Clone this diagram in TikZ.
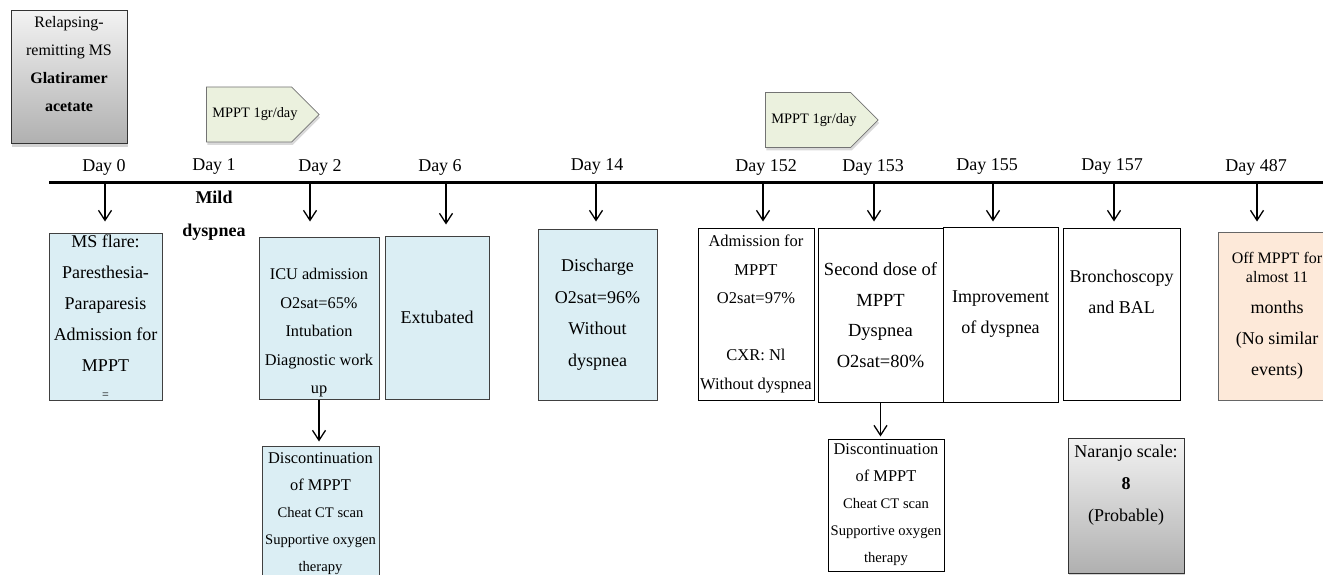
\documentclass[tikz,border=0pt]{standalone}
\usepackage{fontspec}
\setmainfont{Liberation Serif}
\usetikzlibrary{arrows.meta,shapes.symbols,shadows}
\definecolor{boxblue}{RGB}{219,238,244}
\definecolor{taggreen}{RGB}{235,241,222}
\definecolor{boxpeach}{RGB}{253,233,217}

\begin{document}
\begin{tikzpicture}
[x=1pt, y=-1pt,
 every node/.style={inner sep=0pt, align=center, font=\fontsize{18}{31}\selectfont},
 bluebox/.style={rectangle, draw=black!75, line width=1pt, fill=boxblue},
 plainbox/.style={rectangle, draw=black, line width=1pt, fill=white},
 peachbox/.style={rectangle, draw=black!60, line width=1pt, fill=boxpeach},
 greybox/.style={rectangle, draw=black!80, line width=1pt, top color=gray!10, bottom color=gray!62, drop shadow={shadow xshift=1pt, shadow yshift=-3pt, opacity=0.35}},
 dosetag/.style={signal, signal to=east, anchor=west, draw=black!55, line width=0.75pt, fill=taggreen, minimum width=110pt, minimum height=55pt, font=\fontsize{14.4}{17}\selectfont, drop shadow={shadow xshift=1pt, shadow yshift=-3pt, opacity=0.3}},
 dayarrow/.style={line width=1.3pt, -{Straight Barb[length=10pt,width=13pt]}}]
\useasboundingbox (0,0) rectangle (1323,575);
\clip (0,0) rectangle (1323,575);

% top
\node (rrms) [greybox, minimum width=116pt, minimum height=133pt, font=\fontsize{16}{28}\selectfont] at (69, 77.5) {Relapsing-\\remitting MS\\\textbf{Glatiramer}\\\textbf{acetate}\\\mbox{}};
\node (tag1) [dosetag] at (206, 114.5) {\kern6pt MPPT 1gr/day\kern-6pt};
\node (tag2) [dosetag] at (765, 120) {\kern6pt MPPT 1gr/day\kern-6pt};

% days
\node (day0) at (104, 167) {Day 0};
\node (day1) at (214, 167) {Day 1};
\node (day2) at (320, 167) {Day 2};
\node (day6) at (440, 167) {Day 6};
\node (day14) at (597, 167) {Day 14};
\node (day152) at (766, 167) {Day 152};
\node (day153) at (873, 167) {Day 153};
\node (day155) at (987, 167) {Day 155};
\node (day157) at (1112, 167) {Day 157};
\node (day487) at (1256, 167) {Day 487};

% timeline
\coordinate (lstart) at (49, 183);
\coordinate (lend) at (1323, 183);
\draw [line width=3pt] (lstart) -- (lend);
\coordinate (t0) at (105, 183);
\coordinate (t2) at (310, 183);
\coordinate (t6) at (446, 183);
\coordinate (t14) at (596, 183);
\coordinate (t152) at (763, 183);
\coordinate (t153) at (874, 183);
\coordinate (t155) at (993, 183);
\coordinate (t157) at (1114, 183);
\coordinate (t487) at (1257, 183);

\node (mild) [font=\fontsize{18}{33}\selectfont\bfseries] at (214, 215.5) {Mild\\dyspnea};

% events
\node (flare) [bluebox, minimum width=113pt, minimum height=167pt] at (105.5, 316.5) {MS flare:\\Paresthesia-\\Paraparesis\\Admission for\\MPPT\\[-4pt]{\fontsize{12}{12}\selectfont =}};
\node (icu) [bluebox, minimum width=120pt, minimum height=162pt, font=\fontsize{16.3}{28.5}\selectfont] at (319, 318) {\mbox{}\\[12pt]ICU admission\\O2sat=65\%\\Intubation\\Diagnostic work\\up};
\node (extub) [bluebox, minimum width=104pt, minimum height=163pt] at (437, 317.5) {Extubated};
\node (disch) [bluebox, minimum width=119pt, minimum height=171pt, font=\fontsize{18}{31.5}\selectfont] at (597.5, 314.5) {Discharge\\O2sat=96\%\\Without\\dyspnea};
\node (readm) [plainbox, minimum width=116pt, minimum height=172pt, font=\fontsize{16.5}{28.6}\selectfont] at (756, 314) {Admission for\\MPPT\\O2sat=97\%\\[28.6pt]CXR: Nl\\Without dyspnea};
\node (dose2) [plainbox, minimum width=125pt, minimum height=174pt, font=\fontsize{18.5}{30.5}\selectfont] at (880.5, 315) {Second dose of\\MPPT\\Dyspnea\\O2sat=80\%};
\node (impr) [plainbox, minimum width=115pt, minimum height=175pt] at (1000.5, 314.5) {Improvement\\of dyspnea};
\node (bron) [plainbox, minimum width=117pt, minimum height=172pt] at (1121.5, 314) {Bronchoscopy\\and BAL\\[13pt]\mbox{}};
\node (offm) [peachbox, minimum width=118pt, minimum height=168pt] at (1277, 316) {{\fontsize{16}{19}\selectfont Off MPPT for}\\[-12pt]{\fontsize{16}{19}\selectfont almost 11}\\months\\(No similar\\events)};

% below
\node (disc1) [bluebox, minimum width=117pt, minimum height=136pt, font=\fontsize{14.6}{27}\selectfont] at (320.5, 514) {{\fontsize{16.4}{27}\selectfont Discontinuation}\\{\fontsize{16.4}{27}\selectfont of MPPT}\\Cheat CT scan\\Supportive oxygen\\therapy};
\node (disc2) [plainbox, minimum width=116pt, minimum height=132pt, font=\fontsize{14.6}{27}\selectfont] at (886, 505) {{\fontsize{16.4}{27}\selectfont Discontinuation}\\{\fontsize{16.4}{27}\selectfont of MPPT}\\Cheat CT scan\\Supportive oxygen\\therapy};
\node (naranjo) [greybox, minimum width=116pt, minimum height=135pt, font=\fontsize{18}{32}\selectfont] at (1126, 505.5) {Naranjo scale:\\\textbf{8}\\(Probable)\\[13pt]\mbox{}};

% arrows
\draw [dayarrow, shorten >=11pt] (t0) -- (t0 |- flare.north);
\draw [dayarrow, shorten >=15pt] (t2) -- (t2 |- icu.north);
\draw [dayarrow, shorten >=11pt] (t6) -- (t6 |- extub.north);
\draw [dayarrow, shorten >=7pt] (t14) -- (t14 |- disch.north);
\draw [dayarrow, shorten >=6pt] (t152) -- (t152 |- readm.north);
\draw [dayarrow, shorten >=6pt] (t153) -- (t153 |- dose2.north);
\draw [dayarrow, shorten >=5pt] (t155) -- (t155 |- impr.north);
\draw [dayarrow, shorten >=6pt] (t157) -- (t157 |- bron.north);
\draw [dayarrow, shorten >=10pt] (t487) -- (t487 |- offm.north);
\draw [dayarrow, shorten >=4pt] (icu.south) -- (icu.south |- disc1.north);
\draw [dayarrow, shorten >=2pt] (dose2.south) -- (dose2.south |- disc2.north);
\end{tikzpicture}
\end{document}
